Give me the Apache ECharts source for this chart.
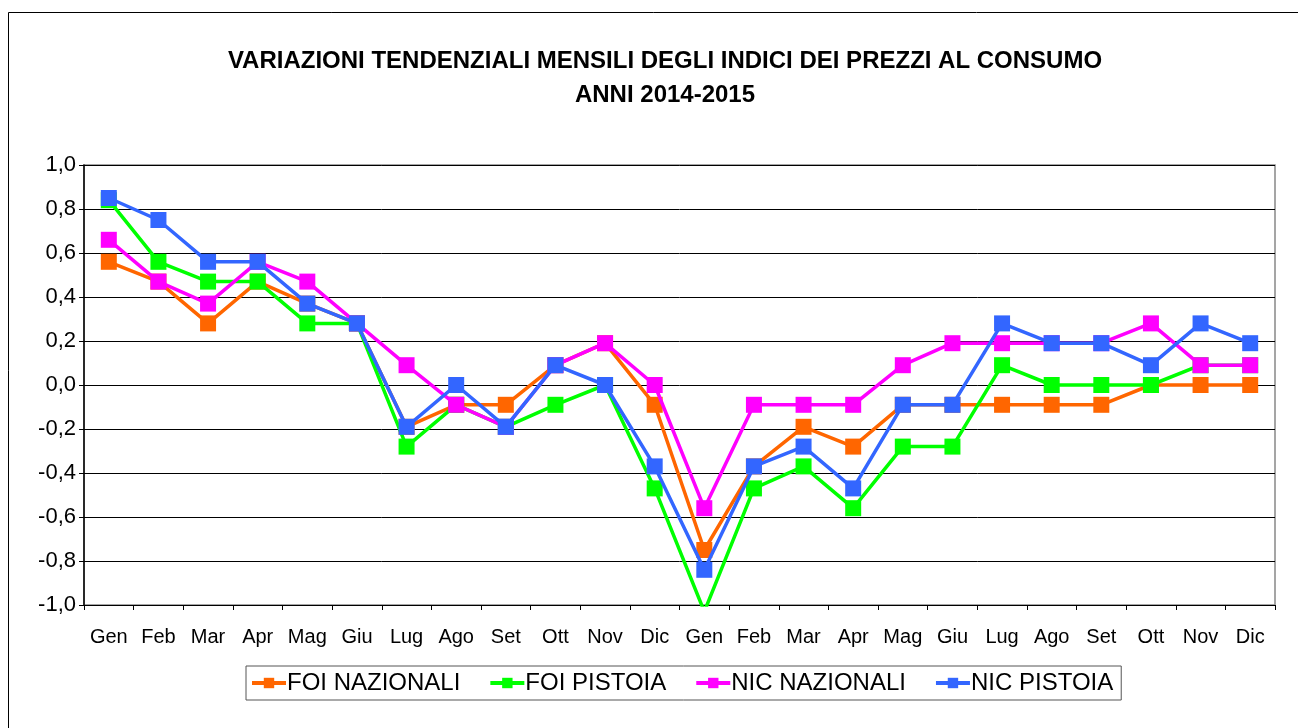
<!DOCTYPE html>
<html><head><meta charset="utf-8">
<script src="https://cdn.jsdelivr.net/npm/echarts@6/dist/echarts.min.js"></script>
<style>html,body{margin:0;padding:0;background:#fff}#c{width:1298px;height:728px}</style>
</head><body><div id="c"></div>
<script>
const categories = ['Gen','Feb','Mar','Apr','Mag','Giu','Lug','Ago','Set','Ott','Nov','Dic','Gen','Feb','Mar','Apr','Mag','Giu','Lug','Ago','Set','Ott','Nov','Dic'];
const foiNazionali = [0.56,0.47,0.28,0.47,0.37,0.28,-0.19,-0.09,-0.09,0.09,0.19,-0.09,-0.75,-0.37,-0.19,-0.28,-0.09,-0.09,-0.09,-0.09,-0.09,0,0,0];
const foiPistoia = [0.84,0.56,0.47,0.47,0.28,0.28,-0.28,-0.09,-0.19,-0.09,0,-0.47,-1.03,-0.47,-0.37,-0.56,-0.28,-0.28,0.09,0,0,0,0.09,0.09];
const nicNazionali = [0.66,0.47,0.37,0.56,0.47,0.28,0.09,-0.09,-0.19,0.09,0.19,0,-0.56,-0.09,-0.09,-0.09,0.09,0.19,0.19,0.19,0.19,0.28,0.09,0.09];
const nicPistoia = [0.85,0.75,0.56,0.56,0.37,0.28,-0.19,0,-0.19,0.09,0,-0.37,-0.84,-0.37,-0.28,-0.47,-0.09,-0.09,0.28,0.19,0.19,0.09,0.28,0.19];
const seriesNames = ['FOI NAZIONALI','FOI PISTOIA','NIC NAZIONALI','NIC PISTOIA'];
const colors = ['#FF6600','#00FF00','#FF00FF','#3366FF'];
const dataSets = [foiNazionali, foiPistoia, nicNazionali, nicPistoia];

const chart = echarts.init(document.getElementById('c'));
const font = "'Liberation Sans', Arial, sans-serif";
chart.setOption({
  animation: false,
  textStyle: {fontFamily: font},
  title: {
    text: 'VARIAZIONI TENDENZIALI MENSILI DEGLI INDICI DEI PREZZI AL CONSUMO\nANNI 2014-2015',
    left: 660, textAlign: 'center', top: 39,
    textStyle: {fontFamily: font, fontSize: 24, fontWeight: 'bold', color: '#000', lineHeight: 34}
  },
  graphic: [{type:'rect', shape:{x:8.5,y:12.5,width:1300,height:730}, style:{fill:null, stroke:'#000', lineWidth:1}, silent:true}],
  legend: {
    data: seriesNames,
    left: 246, top: 666,
    padding: [5, 8, 5, 4],
    itemGap: 28,
    itemWidth: 34, itemHeight: 13,
    lineStyle: {width: 4},
    borderColor: '#555', borderWidth: 1,
    textStyle: {fontFamily: font, fontSize: 24, color: '#000', padding:[0,0,0,-4]}
  },
  grid: {left: 84, top: 165, width: 1191, height: 440, show: true, borderColor: '#888', borderWidth: 1.5, backgroundColor: 'transparent'},
  xAxis: [{
    type: 'category', data: categories, boundaryGap: true, position: 'bottom',
    axisLine: {show: false}, axisTick: {show: false},
    axisLabel: {fontFamily: font, fontSize: 20, color: '#000', margin: 22, interval: 0}
  },{
    type: 'category', data: categories, boundaryGap: true, position: 'bottom',
    axisLine: {show: true, onZero: true, lineStyle:{color:'#000', width:1}},
    axisTick: {show: true, length: 5, inside: false, lineStyle:{color:'#000'}},
    axisLabel: {show: false}
  }],
  yAxis: {
    type: 'value', min: -1, max: 1, interval: 0.2,
    axisLine: {show: true, lineStyle:{color:'#000', width:1.5}},
    axisTick: {show: true, length: 5, lineStyle:{color:'#000'}},
    splitLine: {show: true, lineStyle:{color:'#000', width:1}},
    axisLabel: {fontFamily: font, fontSize: 22, color: '#000', margin: 8,
      formatter: v => v.toFixed(1).replace('.', ',')}
  },
  series: dataSets.map((d, i) => ({
    name: seriesNames[i], type: 'line', data: d, xAxisIndex: 0,
    symbol: 'rect', symbolSize: 16, showAllSymbol: true,
    lineStyle: {color: colors[i], width: 3.5},
    itemStyle: {color: colors[i]},
    z: 2 + i
  }))
});
</script></body></html>
